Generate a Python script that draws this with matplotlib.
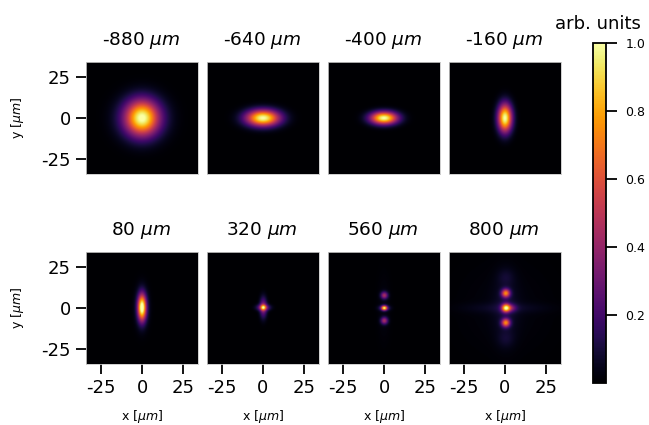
import numpy as np
import matplotlib
matplotlib.use("Agg")
import matplotlib.pyplot as plt

plt.rcParams['axes.unicode_minus'] = False

W, H = 649, 425

positions = [-880, -640, -400, -160, 80, 320, 560, 800]
ticks = [-25, 0, 25]
cbar_ticks = [0.2, 0.4, 0.6, 0.8, 1.0]

# spots: x, y, width x, width y, height (um / arb. units)
spots_880 = [(0, 0, 9.2, 8.6, 0.42), (0, 0, 6.6, 7.2, 0.6)]
spots_640 = [(0, 0, 7.2, 3.5, 1.0)]
spots_400 = [(0, 0, 5.8, 2.7, 1.0)]
spots_160 = [(0, 0, 3.0, 6.0, 1.0)]
spots_80 = [(0, 0, 1.8, 5.5, 1.0), (0, 0, 3.0, 9.0, 0.1)]
spots_320 = [(0.2, 0, 1.0, 1.0, 0.35), (0.2, 0, 1.5, 4.3, 0.36), (0.2, 0, 2.8, 1.3, 0.36)]
spots_560 = [(0.2, 0, 1.2, 1.0, 0.78), (0.2, 0, 2.4, 1.1, 0.2), (0.2, 7.7, 1.5, 1.5, 0.42),
             (0.2, -7.7, 1.5, 1.5, 0.42), (0, 0, 3, 15, 0.03)]
spots_800 = [(0.5, 0, 1.8, 1.8, 0.8), (3.5, 0, 2.4, 1.6, 0.24), (0.5, 9, 1.8, 1.8, 0.68),
             (0.5, -9, 1.8, 1.8, 0.68), (0.5, 19, 3.5, 3.5, 0.05), (0.5, -19, 3.5, 3.5, 0.05),
             (0, 0, 18, 2.2, 0.05), (0.5, 0, 5, 14, 0.07), (0, 0, 20, 20, 0.025)]
spots = [spots_880, spots_640, spots_400, spots_160, spots_80, spots_320, spots_560, spots_800]

left_px = [86, 207, 328, 449]
top_px = [62, 252]
size_px = 112

g = np.linspace(-34, 34, 341)
X, Y = np.meshgrid(g, g)


def frame(sp):
    z = np.zeros_like(X)
    for x0, y0, sx, sy, a in sp:
        z += a * np.exp(-(X - x0)**2 / (2 * sx**2) - (Y - y0)**2 / (2 * sy**2))
    return z


fig = plt.figure(figsize=(W / 100, H / 100), dpi=100)

for i in range(8):
    row, col = i // 4, i % 4
    ax = fig.add_axes([left_px[col] / W, 1 - (top_px[row] + size_px) / H, size_px / W, size_px / H])
    im = ax.imshow(frame(spots[i]), extent=[-34, 34, -34, 34], origin='lower', cmap='inferno',
                   vmin=0, vmax=1, interpolation='bilinear')
    ax.set_title("%d $\\mu m$" % positions[i], fontsize=13.3, pad=12, x=0.49)
    ax.set_xticks(ticks)
    ax.set_yticks(ticks)
    ax.tick_params(labelsize=13, length=7, width=1.3, pad=4)
    for s in ax.spines.values():
        s.set_color('#c8c8c8')
        s.set_linewidth(0.6)
    if row == 1:
        ax.set_xlabel("x [$\\mu m$]", fontsize=9, labelpad=8)
    else:
        ax.tick_params(bottom=False, labelbottom=False)
    if col == 0:
        ax.set_ylabel("y [$\\mu m$]", fontsize=9, labelpad=11)
    else:
        ax.tick_params(left=False, labelleft=False)

cax = fig.add_axes([593 / W, 1 - 383 / H, 13 / W, 340 / H])
cb = fig.colorbar(im, cax=cax, ticks=cbar_ticks)
cb.outline.set_linewidth(1.3)
cb.ax.tick_params(labelsize=9, length=8, width=1.3, pad=6)
cax.set_title("arb. units", fontsize=13, pad=10, x=0.35)

fig.savefig("out.png", dpi=100)
